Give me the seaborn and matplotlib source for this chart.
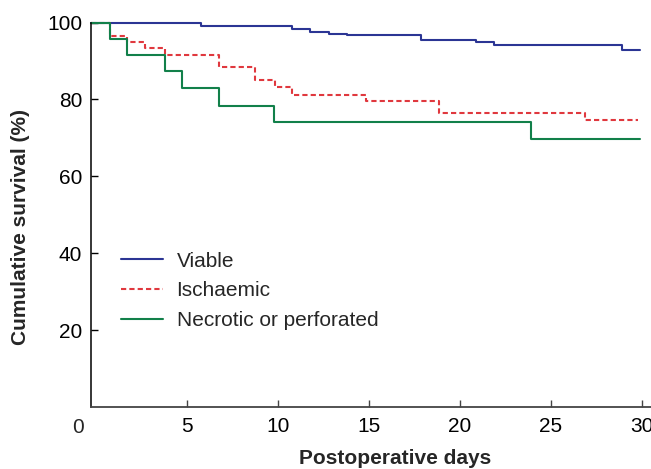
import matplotlib
matplotlib.use("Agg")
import matplotlib.pyplot as plt
import seaborn as sns
import pandas as pd

# ---- data ----
viable_days = [-0.24, 5.77, 10.77, 11.76, 12.8, 13.8, 17.86, 20.9, 21.9, 28.9, 29.9]
viable_surv = [100, 99.2, 98.25, 97.6, 97.1, 96.7, 95.5, 94.9, 94.2, 92.9, 92.9]

isch_days = [-0.24, 0.81, 1.74, 2.73, 3.79, 6.77, 8.77, 9.84, 10.79, 14.84, 18.85, 26.9, 29.8]
isch_surv = [100, 96.5, 94.9, 93.3, 91.55, 88.3, 85.0, 83.2, 81.2, 79.7, 76.35, 74.6, 74.6]

necro_days = [-0.24, 0.77, 1.74, 3.79, 4.74, 6.77, 9.78, 23.9, 29.9]
necro_surv = [100, 95.7, 91.55, 87.4, 83.0, 78.4, 74.2, 69.65, 69.65]

groups = ["Viable", "Ischaemic", "Necrotic or perforated"]
x_ticks = [5, 10, 15, 20, 25, 30]
y_ticks = [20, 40, 60, 80, 100]

# ---- style ----
sns.set_style("ticks")
plt.rcParams["font.family"] = ["Liberation Sans", "DejaVu Sans"]

fig = plt.figure(figsize=(6.51, 4.69), dpi=100)
ax = fig.add_axes([0.1402, 0.1322, 0.8595, 0.8198])

series = [
    (viable_days, viable_surv, "#2b3594", "-"),
    (isch_days, isch_surv, "#e0383e", (0, (2.5, 1.5))),
    (necro_days, necro_surv, "#12804a", "-"),
]
for (d, s, c, ls), name in zip(series, groups):
    df = pd.DataFrame({"day": d, "surv": s})
    sns.lineplot(data=df, x="day", y="surv", ax=ax, color=c, linestyle=ls,
                 linewidth=1.5, drawstyle="steps-post", label=name,
                 estimator=None, legend=False, clip_on=False)

ax.set_xlim(-0.24, 30.5)
ax.set_ylim(0, 100)
ax.set_xticks(x_ticks)
ax.set_yticks(y_ticks)
ax.tick_params(axis="both", direction="in", length=5, width=1.0,
               labelsize=15, colors="black")
ax.tick_params(axis="x", pad=7.5, color="#444444")
ax.tick_params(axis="y", pad=6.5)

for side in ["top", "right"]:
    ax.spines[side].set_visible(False)
ax.spines["left"].set_color("black")
ax.spines["left"].set_linewidth(1.1)
ax.spines["bottom"].set_color("#444444")
ax.spines["bottom"].set_linewidth(1.3)

ax.annotate("0", xy=(0, 0), xycoords="axes fraction", xytext=(-9.8, -7.7),
            textcoords="offset points", ha="center", va="top", fontsize=15)

ax.set_xlabel("Postoperative days", fontsize=15, fontweight="bold")
ax.set_ylabel("Cumulative survival (%)", fontsize=15, fontweight="bold")
ax.xaxis.set_label_coords(0.543, -0.11)
ax.yaxis.set_label_coords(-0.109, 0.468)

handles, labels = ax.get_legend_handles_labels()
ax.legend(handles, labels, loc="upper left", bbox_to_anchor=(0.053, 0.404),
          frameon=False, borderpad=0, borderaxespad=0, handlelength=2.0,
          handletextpad=0.67, labelspacing=0.52, fontsize=15)

fig.savefig("out.png", dpi=100)
